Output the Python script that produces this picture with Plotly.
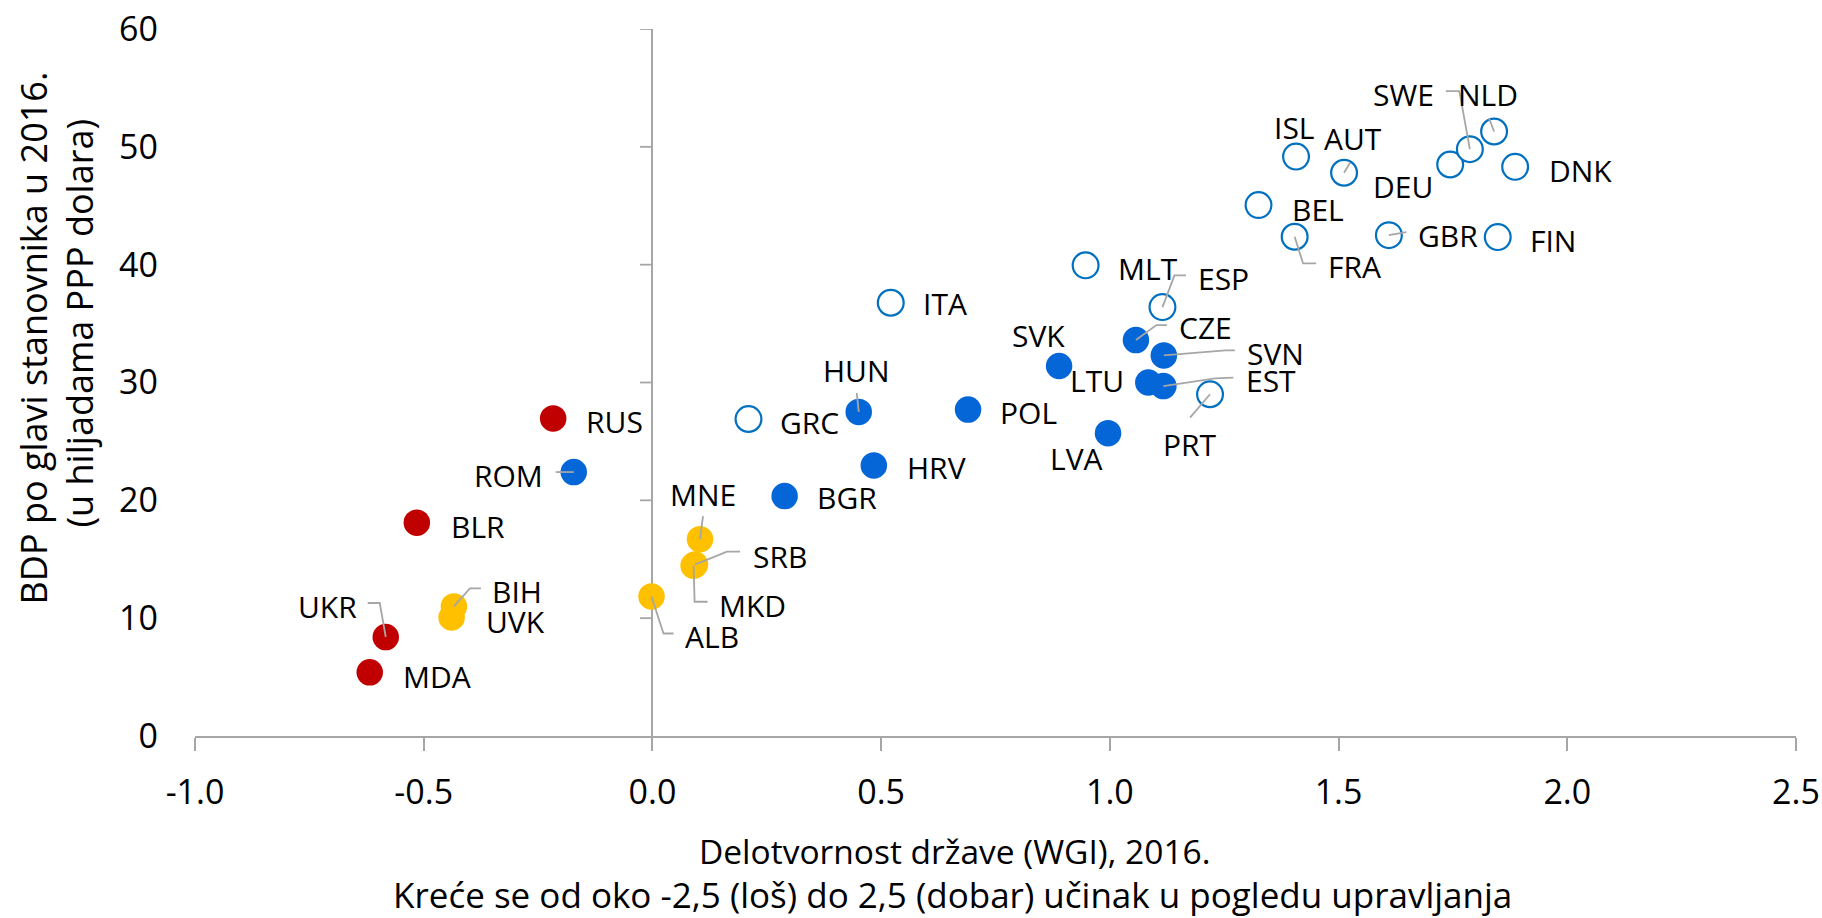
import plotly.graph_objects as go

# ---- data ----
countries = ["RUS", "ROM", "BLR", "UKR", "MDA", "BIH", "UVK", "ALB", "MNE", "SRB", "MKD",
             "BGR", "HRV", "HUN", "POL", "GRC", "ITA", "SVK", "LTU", "LVA", "EST", "CZE",
             "SVN", "MLT", "ESP", "PRT", "BEL", "FRA", "ISL", "AUT", "GBR", "DEU", "SWE",
             "NLD", "DNK", "FIN"]
wgi = [-0.217, -0.172, -0.515, -0.583, -0.618, -0.434, -0.439, -0.002, 0.104, 0.093, 0.090,
       0.289, 0.484, 0.451, 0.690, 0.210, 0.521, 0.889, 1.084, 0.996, 1.117, 1.057,
       1.118, 0.947, 1.115, 1.219, 1.325, 1.404, 1.407, 1.512, 1.610, 1.744, 1.787,
       1.840, 1.886, 1.848]
gdp = [26.95, 22.4, 18.1, 8.4, 5.4, 11.0, 10.06, 11.84, 16.7, 14.55, 14.45,
       20.36, 22.96, 27.5, 27.7, 26.9, 36.77, 31.4, 30.0, 25.7, 29.7, 33.6,
       32.3, 39.94, 36.4, 29.0, 45.06, 42.37, 49.17, 47.8, 42.5, 48.5, 49.8,
       51.3, 48.3, 42.34]
group = ["cis", "eu_new", "cis", "cis", "cis", "wb", "wb", "wb", "wb", "wb", "wb",
         "eu_new", "eu_new", "eu_new", "eu_new", "eu_old", "eu_old", "eu_new", "eu_new", "eu_new", "eu_new", "eu_new",
         "eu_new", "eu_old", "eu_old", "eu_old", "eu_old", "eu_old", "eu_old", "eu_old", "eu_old", "eu_old", "eu_old",
         "eu_old", "eu_old", "eu_old"]

x_ticks = [-1.0, -0.5, 0.0, 0.5, 1.0, 1.5, 2.0, 2.5]
y_ticks = [0, 10, 20, 30, 40, 50, 60]

x_title_1 = "Delotvornost države (WGI), 2016."
x_title_2 = "Kreće se od oko -2,5 (loš) do 2,5 (dobar) učinak u pogledu upravljanja"
y_title_1 = "BDP po glavi stanovnika u 2016."
y_title_2 = "(u hiljadama PPP dolara)"

# ---- styles ----
FONT = "Open Sans"
styles = {
    "cis": dict(color="#C00000", line=dict(color="#C00000", width=0)),
    "wb": dict(color="#FFC000", line=dict(color="#FFC000", width=0)),
    "eu_new": dict(color="#0566D8", line=dict(color="#0566D8", width=0)),
    "eu_old": dict(color="#FFFFFF", line=dict(color="#0070C0", width=2.2)),
}
sizes = {"cis": 26.5, "wb": 26.5, "eu_new": 26.5, "eu_old": 25.8}

# label placement: anchor, dx(px), dy(px, up), leader polyline (px, relative to point)
labels = {
    "RUS": ("left", 30.6, -2.7, None),
    "ROM": ("right", -29, -3.7, [(-18, 0)]),
    "BLR": ("left", 31.7, -3.4, None),
    "UKR": ("right", -26.3, 30.7, [(-18, 34), (-6, 34)]),
    "MDA": ("left", 31.5, -4, None),
    "BIH": ("left", 36, 15, [(27, 18), (16, 18)]),
    "UVK": ("left", 32, -4, None),
    "ALB": ("left", 31, -40, [(22, -37), (12, -37)]),
    "MNE": ("center", 3, 45, [(3, 23)]),
    "SRB": ("left", 56, 8, [(45, 13), (32, 13)]),
    "MKD": ("left", 23, -40, [(14, -36), (1, -36)]),
    "BGR": ("left", 30.8, -1.6, None),
    "HRV": ("left", 31.3, -2.3, None),
    "HUN": ("center", -2.6, 41.6, [(-2, 19)]),
    "POL": ("left", 30.4, -2.7, None),
    "GRC": ("left", 30, -3, None),
    "ITA": ("left", 30.4, -1, None),
    "SVK": ("right", 8, 31, None),
    "LTU": ("right", -22.4, 2, None),
    "LVA": ("center", -31.7, -25, None),
    "EST": ("left", 80.4, 5.7, [(70, 8.4), (51.6, 7.7)]),
    "CZE": ("left", 41.5, 13, [(31, 15), (20.5, 15)]),
    "SVN": ("left", 81, 2, [(71, 5), (61.6, 5)]),
    "MLT": ("left", 30.7, -3.3, None),
    "ESP": ("left", 34, 28.7, [(23.5, 31.7), (12, 31.7)]),
    "PRT": ("center", -20, -50.7, [(-20, -23.3)]),
    "BEL": ("left", 31, -4, None),
    "FRA": ("left", 31.5, -30, [(21.5, -26.7), (8.4, -26.7)]),
    "ISL": ("center", -2, 29, None),
    "AUT": ("center", 9, 34, [(6, 10)]),
    "GBR": ("left", 27, 0, [(17.5, 3)]),
    "DEU": ("right", -15, -22, None),
    "SWE": ("right", -33.5, 55, [(-24, 58), (-10.5, 58)]),
    "NLD": ("center", -6, 37, [(-5, 13)]),
    "DNK": ("left", 31.5, -4, None),
    "FIN": ("left", 30, -3, None),
}

fig = go.Figure()
for g in ["eu_old", "eu_new", "wb", "cis"]:
    idx = [i for i, gg in enumerate(group) if gg == g]
    fig.add_trace(go.Scatter(
        x=[wgi[i] for i in idx], y=[gdp[i] for i in idx],
        mode="markers", hoverinfo="text", text=[countries[i] for i in idx],
        marker=dict(size=sizes[g], **styles[g]), cliponaxis=False, showlegend=False))

annotations = []
shapes = []
for i, c in enumerate(countries):
    anchor, dx, dy, leader = labels[c]
    annotations.append(dict(x=wgi[i], y=gdp[i], xref="x", yref="y", text=c, showarrow=False,
                            xanchor=anchor, yanchor="middle", xshift=dx, yshift=dy,
                            font=dict(family=FONT, size=30, color="#000000")))
    if leader:
        pts = leader + [(0, 0)]
        path = "M " + " L ".join(f"{px},{py}" for px, py in pts)
        shapes.append(dict(type="path", xref="x", yref="y", xsizemode="pixel", ysizemode="pixel",
                           xanchor=wgi[i], yanchor=gdp[i], path=path, layer="above",
                           line=dict(color="#A6A6A6", width=1.8)))

# y-axis tick marks on the vertical axis at x=0
for yt in y_ticks[1:]:
    shapes.append(dict(type="line", xref="x", yref="y", xsizemode="pixel", xanchor=0,
                       x0=-12.5, x1=0, y0=yt, y1=yt, layer="below",
                       line=dict(color="#A6A6A6", width=1.8)))

# axis titles
annotations += [
    dict(x=0.5, y=0, xref="paper", yref="paper", text=x_title_1, showarrow=False,
         xanchor="center", yanchor="middle", xshift=955 - 995.5, yshift=-(851 - 736.5),
         font=dict(family=FONT, size=33.5, color="#000000")),
    dict(x=0.5, y=0, xref="paper", yref="paper", text=x_title_2, showarrow=False,
         xanchor="center", yanchor="middle", xshift=952 - 995.5, yshift=-(895 - 736.5),
         font=dict(family=FONT, size=35, color="#000000")),
    dict(x=0, y=0.5, xref="paper", yref="paper", text=y_title_1, showarrow=False, textangle=-90,
         xanchor="center", yanchor="middle", xshift=33 - 195, yshift=383 - 339,
         font=dict(family=FONT, size=36, color="#000000")),
    dict(x=0, y=0.5, xref="paper", yref="paper", text=y_title_2, showarrow=False, textangle=-90,
         xanchor="center", yanchor="middle", xshift=79 - 195, yshift=383 - 324,
         font=dict(family=FONT, size=36, color="#000000")),
]

fig.update_layout(
    width=1822, height=918,
    margin=dict(l=195, r=26, t=29, b=182, pad=0, autoexpand=False),
    paper_bgcolor="white", plot_bgcolor="white",
    annotations=annotations, shapes=shapes,
    xaxis=dict(range=[-1.0, 2.5], tickvals=x_ticks, ticktext=[f"{v:.1f}" for v in x_ticks],
               automargin=False,
               showgrid=False, zeroline=True, zerolinecolor="#A6A6A6", zerolinewidth=1.8,
               showline=True, linecolor="#A6A6A6", linewidth=2,
               ticks="outside", ticklen=13, tickwidth=1.5, tickcolor="#A6A6A6",
               ticklabelstandoff=12,
               tickfont=dict(family=FONT, size=34, color="#000000")),
    yaxis=dict(range=[0, 60], tickvals=y_ticks, showgrid=False, zeroline=False, showline=False,
               automargin=False,
               ticks="", ticklabelstandoff=36,
               tickfont=dict(family=FONT, size=34, color="#000000")),
    font=dict(family=FONT),
)

fig.write_html("out.html", config={"displayModeBar": False},
               post_script="document.body.style.margin='0';document.body.style.overflow='hidden';")
